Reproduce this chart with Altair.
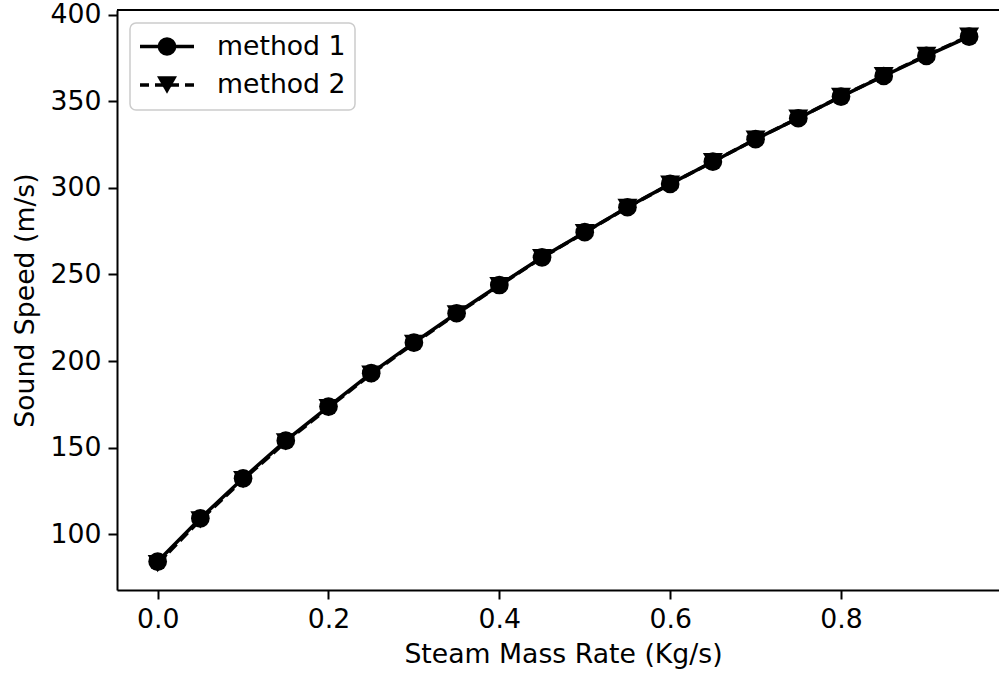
import altair as alt
import pandas as pd

# Steam mass rate (kg/s) and the sound speed computed by two methods
mass_rate = [0.00, 0.05, 0.10, 0.15, 0.20, 0.25, 0.30, 0.35, 0.40, 0.45,
             0.50, 0.55, 0.60, 0.65, 0.70, 0.75, 0.80, 0.85, 0.90, 0.95]
speed_method1 = [84.2, 109.2, 132.3, 154.0, 173.7, 193.0, 210.6, 227.6, 243.9, 259.9,
                 274.4, 288.8, 302.3, 315.1, 328.1, 340.2, 352.7, 364.6, 376.2, 387.3]
speed_method2 = [83.0, 108.3, 131.5, 153.3, 173.1, 192.5, 210.2, 227.2, 243.6, 259.7,
                 274.2, 288.7, 302.2, 315.1, 328.1, 340.3, 352.8, 364.8, 376.5, 387.6]
series_names = ["method 1", "method 2"]
x_ticks = [0.0, 0.2, 0.4, 0.6, 0.8]
y_ticks = [100, 150, 200, 250, 300, 350, 400]

FONT = "DejaVu Sans"
FS = 26.7
W, H = 882, 580

df1 = pd.DataFrame({"rate": mass_rate, "speed": speed_method1})
df2 = pd.DataFrame({"rate": mass_rate, "speed": speed_method2})

x_enc = alt.X(
    "rate:Q",
    scale=alt.Scale(domain=[-0.0476, 0.985], nice=False, zero=False),
    axis=alt.Axis(values=x_ticks, format=".1f", title="Steam Mass Rate (Kg/s)",
                  titleX=446, titleAnchor="start", titleAlign="center"),
)
y_enc = alt.Y(
    "speed:Q",
    scale=alt.Scale(domain=[67.8, 402.7], nice=False, zero=False),
    axis=alt.Axis(values=y_ticks, format="d", title="Sound Speed (m/s)"),
)

line1 = alt.Chart(df1).mark_line(color="black", strokeWidth=3.5).encode(x=x_enc, y=y_enc)
pts1 = alt.Chart(df1).mark_point(shape="circle", filled=True, color="black", opacity=1,
                                 size=350).encode(x=x_enc, y=y_enc)
line2 = alt.Chart(df2).mark_line(color="black", strokeWidth=3.5,
                                 strokeDash=[11, 5]).encode(x=x_enc, y=y_enc)
pts2 = alt.Chart(df2).mark_point(shape="triangle-down", filled=True, color="black",
                                 opacity=1, size=400).encode(x=x_enc, y=y_enc)

# top frame line
one = pd.DataFrame({"k": [0]})
top_rule = alt.Chart(one).mark_rule(color="black", strokeWidth=2).encode(
    x=alt.value(0), x2=alt.value(W), y=alt.value(0)
)

# legend box
leg_box = alt.Chart(one).mark_rect(
    fill="white", fillOpacity=0.85, stroke="#cccccc", strokeWidth=1.5, cornerRadius=6
).encode(x=alt.value(13), x2=alt.value(238), y=alt.value(13), y2=alt.value(100))

legend_layers = [leg_box]
rows = [36.5, 75]
for name, ypos, shape, dash, size in zip(
        series_names, rows, ["circle", "triangle-down"], [[1, 0], [9, 6]], [350, 400]):
    d = pd.DataFrame({"label": [name]})
    legend_layers.append(
        alt.Chart(d).mark_rule(color="black", strokeWidth=3.5, strokeDash=dash).encode(
            x=alt.value(23), x2=alt.value(77), y=alt.value(ypos))
    )
    legend_layers.append(
        alt.Chart(d).mark_point(shape=shape, filled=True, color="black", opacity=1,
                                size=size).encode(x=alt.value(50), y=alt.value(ypos))
    )
    legend_layers.append(
        alt.Chart(d).mark_text(align="left", baseline="middle", font=FONT, fontSize=FS,
                               color="black").encode(
            x=alt.value(100), y=alt.value(ypos), text="label:N")
    )

chart = alt.layer(line1, pts1, line2, pts2, top_rule, *legend_layers).properties(
    width=W, height=H,
    autosize=alt.AutoSizeParams(type="none"),
    padding={"left": 117, "top": 10, "right": 0, "bottom": 87},
    background="white",
).configure_view(stroke=None).configure_axis(
    labelFont=FONT, labelFontSize=FS, labelColor="black",
    titleFont=FONT, titleFontSize=FS, titleFontWeight="normal", titleColor="black",
    domainColor="black", domainWidth=2, tickColor="black", tickWidth=2, tickSize=9,
    labelPadding=7, grid=False,
).configure_axisY(titlePadding=11).configure_axisX(titlePadding=9)

chart.save("out.html", embed_options={"renderer": "svg", "actions": False})
